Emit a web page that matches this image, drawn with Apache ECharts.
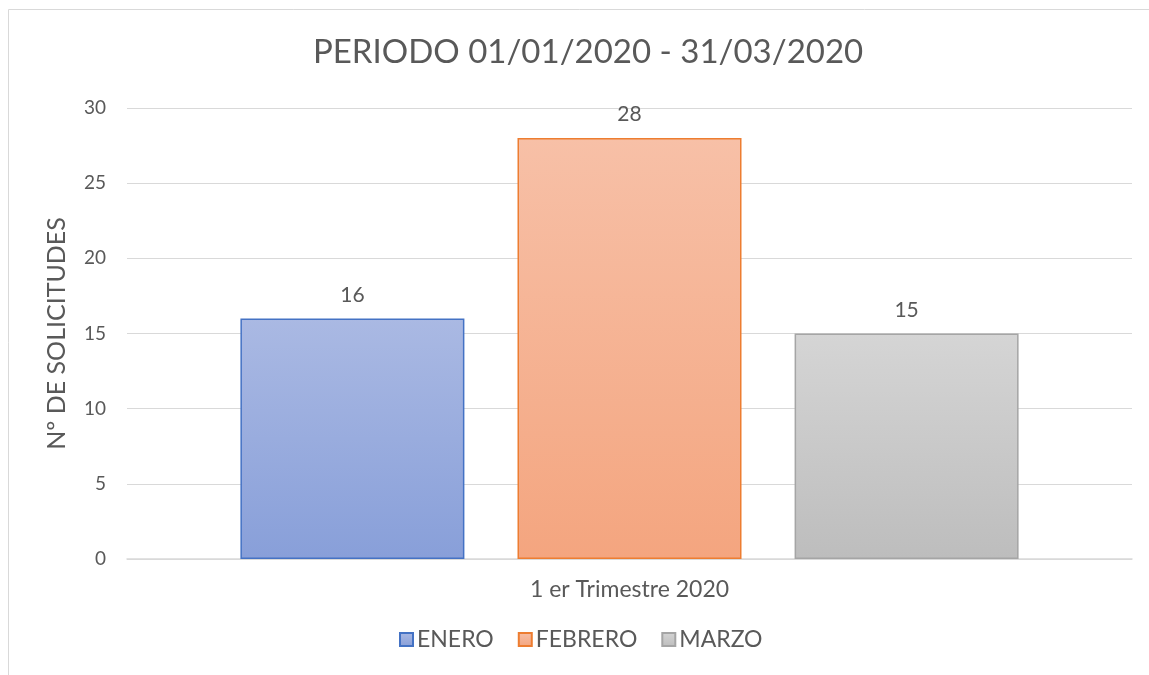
<!DOCTYPE html>
<html><head><meta charset="utf-8">
<script src="https://cdn.jsdelivr.net/npm/echarts@6/dist/echarts.min.js"></script>
<style>html,body{margin:0;padding:0;background:#fff}#c{width:1149px;height:675px}</style>
</head><body><div id="c"></div>
<script>
const categories = ['1 er Trimestre 2020'];
const seriesNames = ['ENERO', 'FEBRERO', 'MARZO'];
const enero = [16];
const febrero = [28];
const marzo = [15];
const yTicks = [0, 5, 10, 15, 20, 25, 30];

const font = 'Lato, "Open Sans", sans-serif';
const styles = [
  {top:'#AAB9E3', bottom:'#889FD9', border:'#4472C4'},
  {top:'#F7C0A7', bottom:'#F4A57F', border:'#ED7D31'},
  {top:'#D5D5D5', bottom:'#BDBDBD', border:'#A5A5A5'}
];
const values = [enero, febrero, marzo];
const chart = echarts.init(document.getElementById('c'));
chart.setOption({
  animation:false,
  graphic:[{type:'rect',shape:{x:8.5,y:9.5,width:1200,height:700},style:{fill:'none',stroke:'#D9D9D9',lineWidth:1},silent:true}],
  title:{text:'PERIODO 01/01/2020 - 31/03/2020',left:308,top:31,
    textStyle:{fontFamily:font,fontSize:33,fontWeight:'normal',color:'#595959'}},
  legend:{bottom:19,left:394,itemWidth:13,itemHeight:13,itemGap:24,icon:'rect',
    textStyle:{fontFamily:font,fontSize:23,color:'#595959',padding:[0,0,0,-1]},
    data:seriesNames},
  grid:{left:127,right:17,top:108,bottom:116,containLabel:false},
  xAxis:{type:'category',data:categories,
    axisLine:{lineStyle:{color:'#D9D9D9',width:1.5}},axisTick:{show:false},
    axisLabel:{fontFamily:font,fontSize:23,color:'#595959',margin:19}},
  yAxis:{type:'value',min:yTicks[0],max:yTicks[yTicks.length-1],interval:5,
    name:'Nº DE SOLICITUDES',nameLocation:'middle',nameGap:58,
    nameTextStyle:{fontFamily:font,fontSize:25,color:'#595959'},
    axisLine:{show:false},axisTick:{show:false},
    splitLine:{lineStyle:{color:'#D9D9D9',width:1}},
    axisLabel:{fontFamily:font,fontSize:19,color:'#595959',margin:21}},
  series: seriesNames.map((n,i)=>({
    name:n,type:'bar',data:values[i],barWidth:224,barGap:'23.7%',
    itemStyle:{color:new echarts.graphic.LinearGradient(0,0,0,1,[{offset:0,color:styles[i].top},{offset:1,color:styles[i].bottom}]),
      borderColor:styles[i].border,borderWidth:1.5},
    label:{show:true,position:'top',distance:13,fontFamily:font,fontSize:21,color:'#595959'}
  }))
});
</script></body></html>
